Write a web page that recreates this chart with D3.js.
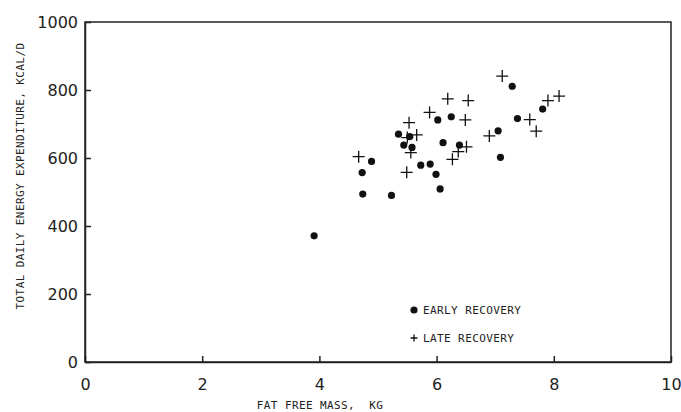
<!DOCTYPE html>
<html>
<head>
<meta charset="utf-8">
<script src="https://cdn.jsdelivr.net/npm/d3@7"></script>
<style>
  body { margin: 0; background: #fff; }
  .tick text { font-family: "DejaVu Sans", sans-serif; font-size: 16px; fill: #222; }
  .lbl { font-family: "DejaVu Sans Mono", monospace; font-size: 11px; fill: #222; letter-spacing: 0.4px; }
</style>
</head>
<body>
<div id="chart"></div>
<script>
// fat free mass (kg) vs total daily energy expenditure (kcal/d)
var earlyFFM = [3.91, 4.73, 4.74, 4.89, 5.23, 5.35, 5.54, 5.44, 5.58, 5.73, 5.89,
                5.99, 6.06, 6.02, 6.11, 6.25, 6.39, 7.05, 7.09, 7.29, 7.38, 7.81];
var earlyTDEE = [371, 557, 494, 590, 490, 670, 663, 638, 631, 579, 582,
                 552, 509, 712, 645, 721, 638, 680, 602, 811, 716, 744];
var lateFFM = [4.67, 5.49, 5.56, 5.50, 5.66, 5.53, 5.88, 6.19, 6.27, 6.37,
               6.51, 6.49, 6.54, 6.90, 7.12, 7.59, 7.70, 7.90, 8.09];
var lateTDEE = [604, 558, 616, 660, 668, 704, 734, 774, 596, 619,
                633, 712, 769, 665, 841, 713, 679, 769, 782];
var xTicks = [0, 2, 4, 6, 8, 10];
var yTicks = [0, 200, 400, 600, 800, 1000];

(function() {
    var width = 681, height = 412,
        mLeft = 85, mRight = 671, mTop = 22, mBottom = 362;

    var x = d3.scaleLinear().domain([0, 10]).range([mLeft, mRight]),
        y = d3.scaleLinear().domain([0, 1000]).range([mBottom, mTop]);

    var svg = d3.select("#chart").append("svg")
        .attr("width", width)
        .attr("height", height);

    svg.append("g")
        .attr("transform", `translate(0,${mBottom})`)
        .call(d3.axisBottom(x).tickValues(xTicks).tickFormat(d3.format("d"))
            .tickSize(-6).tickSizeOuter(0).tickPadding(17));

    svg.append("g")
        .attr("transform", `translate(${mLeft},0)`)
        .call(d3.axisLeft(y).tickValues(yTicks).tickFormat(d3.format("d"))
            .tickSize(-6).tickSizeOuter(0).tickPadding(7));

    svg.selectAll(".domain, .tick line").attr("stroke", "#222").attr("stroke-width", 1.5);

    // frame
    svg.append("rect")
        .attr("x", mLeft).attr("y", mTop)
        .attr("width", mRight - mLeft).attr("height", mBottom - mTop)
        .attr("fill", "none").attr("stroke", "#222").attr("stroke-width", 1.5);

    function plus(g, cx, cy, s) {
        g.append("path")
            .attr("d", `M${cx - s},${cy}H${cx + s}M${cx},${cy - s}V${cy + s}`)
            .attr("stroke", "#111").attr("stroke-width", 1.3).attr("fill", "none");
    }

    var late = svg.append("g");
    lateFFM.forEach((v, i) => plus(late, x(v), y(lateTDEE[i]), 6));

    svg.append("g").selectAll("circle")
        .data(earlyFFM)
        .enter().append("circle")
        .attr("cx", d => x(d))
        .attr("cy", (d, i) => y(earlyTDEE[i]))
        .attr("r", 3.6)
        .attr("fill", "#111");

    // legend
    svg.append("circle").attr("cx", 414).attr("cy", 310).attr("r", 3.6).attr("fill", "#111");
    svg.append("text").attr("class", "lbl").attr("x", 423).attr("y", 314).text("EARLY RECOVERY");
    plus(svg, 414, 338, 3.5);
    svg.append("text").attr("class", "lbl").attr("x", 423).attr("y", 342).text("LATE RECOVERY");

    // axis titles
    svg.append("text").attr("class", "lbl")
        .attr("x", (257 + 383) / 2).attr("y", 409)
        .attr("text-anchor", "middle")
        .style("white-space", "pre")
        .text("FAT FREE MASS,  KG");

    svg.append("text").attr("class", "lbl")
        .attr("transform", "translate(24,176) rotate(-90)")
        .attr("text-anchor", "middle")
        .text("TOTAL DAILY ENERGY EXPENDITURE, KCAL/D");
})();
</script>
</body>
</html>
